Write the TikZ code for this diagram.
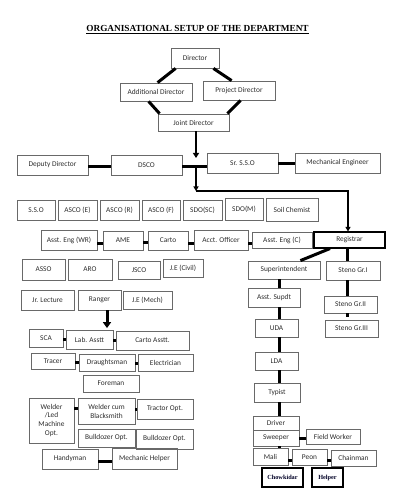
\documentclass[tikz,border=0pt]{standalone}
\usepackage{fontspec}
\setmainfont{Carlito}
\newfontfamily\serifb{Liberation Serif}
\usetikzlibrary{arrows.meta}
\definecolor{boxline}{RGB}{105,105,105}
\definecolor{boxtext}{RGB}{45,45,45}
\tikzset{
  box/.style={draw=boxline, line width=0.8bp, inner sep=0pt, align=center, text=boxtext,
    font=\fontsize{7.4}{9}\selectfont},
  darkbox/.style={draw=black, line width=1.1bp},
  serifbox/.style={draw=black, line width=1.2bp, text=black!85!blue,
    font=\serifb\bfseries\fontsize{6.3}{7}\selectfont},
  conn/.style={line width=3bp, black},
  thinarrow/.style={line width=1.3bp, -{Triangle[width=5bp,length=4.5bp]}},
  midarrow/.style={line width=1.8bp, -{Triangle[width=6bp,length=5bp]}},
  bigarrow/.style={line width=3bp, -{Triangle[width=8bp,length=6bp]}},
}
\newcommand\bx[7][]{\node[box,minimum width={(#5-#3)*1bp},minimum height={(#6-#4)*1bp},#1] (#2) at ({(#3+#5)/2},{(#4+#6)/2}) {#7};}
\begin{document}
\begin{tikzpicture}[x=1bp,y=-1bp]
\useasboundingbox (0,0) rectangle (400,504);
\fill[white] (0,0) rectangle (400,504);
% title
\node[inner sep=0pt, font=\serifb\bfseries\fontsize{9.3}{11}\selectfont, anchor=base] (title) at (197.5,31.5) {ORGANISATIONAL SETUP OF THE DEPARTMENT};
\draw[line width=0.7bp] ([yshift=-1.6bp]title.base west) -- ([yshift=-1.6bp]title.base east);
% top
\bx{director}{171}{48}{219}{68}{Director}
\bx{adddir}{120}{83}{192}{101}{Additional Director}
\bx{projdir}{203}{81}{275}{100}{Project Director}
\bx{jointdir}{158}{114}{229}{131}{Joint Director}
\draw[conn] ([xshift=5bp]director.south west) -- ([xshift=38bp]adddir.north west);
\draw[conn] ([xshift=-6bp]director.south east) -- ([xshift=29bp]projdir.north west);
\draw[conn] ([xshift=29bp]adddir.south west) -- ([xshift=2bp]jointdir.north west);
\draw[conn] ([xshift=38bp]projdir.south west) -- ([xshift=-2bp]jointdir.north east);
% second level
\bx{deputy}{17}{155}{88}{175}{Deputy Director}
\bx{dsco}{111}{155}{182}{175}{DSCO}
\bx{srsso}{207}{153}{278}{173}{Sr. S.S.O}
\bx{mecheng}{295}{153}{380}{173}{Mechanical Engineer}
\coordinate (jtip) at (196,158);
\coordinate (hub) at (196,167);
\coordinate (split) at (196,191);
\coordinate (corner) at (348,191);
\draw[midarrow] (jointdir.south -| 196,0) -- (jtip);
\draw[conn] (deputy.east |- 0,167) -- (dsco.west |- 0,167);
\draw[conn] (dsco.east |- 0,167) -- (srsso.west |- 0,167);
\draw[conn] (srsso.east |- 0,164) -- (mecheng.west |- 0,164);
\draw[thinarrow, line width=1.8bp] (hub) -- (split);
% row 2
\bx{sso}{17}{200}{55}{220}{S.S.O}
\bx{ascoe}{58}{200}{97}{220}{ASCO (E)}
\bx{ascor}{100}{200}{139}{220}{ASCO (R)}
\bx{ascof}{142}{200}{180}{220}{ASCO (F)}
\bx{sdosc}{183}{200}{222}{220}{SDO(SC)}
\bx{sdom}{225}{198}{263}{220}{SDO(M)}
\bx{soil}{266}{198}{318}{221}{Soil Chemist}
% row 3
\bx{aewr}{41}{230}{97}{250}{Asst. Eng (WR)}
\bx{ame}{103}{231}{143}{250}{AME}
\bx{carto}{148}{231}{188}{250}{Carto}
\bx{acct}{194}{230}{248}{250}{Acct. Officer}
\bx{aec}{252}{232}{312}{248}{Asst. Eng (C)}
\bx[darkbox]{registrar}{314}{232}{385}{248}{Registrar}
\draw[conn] (aewr.east |- 0,243) -- (ame.west |- 0,243);
\draw[conn] (ame.east |- 0,242) -- (carto.west |- 0,242);
\draw[conn] (carto.east |- 0,243) -- (acct.west |- 0,243);
\draw[conn] (acct.east |- 0,243) -- (aec.west |- 0,243);
\draw[thinarrow] (split) -- (corner) -- (registrar.north -| corner);
% row 4
\bx{asso}{22}{259}{65}{280}{ASSO}
\bx{aro}{68}{259}{112}{280}{ARO}
\bx{jsco}{118}{261}{160}{279}{JSCO}
\bx{jecivil}{163}{259}{203}{277}{J.E (Civil)}
% row 5
\bx{jrlec}{21}{290}{74}{310}{Jr. Lecture}
\bx{ranger}{78}{290}{121}{310}{Ranger}
\bx{jemech}{123}{291}{172}{309}{J.E (Mech)}
% lower left
\bx{sca}{29}{329}{63}{347}{SCA}
\bx{labasstt}{66}{330}{113}{349}{Lab. Asstt}
\bx{cartoasstt}{116}{331}{189}{350}{Carto Asstt.}
\draw[bigarrow] (ranger.south -| 107,0) -- ([yshift=1.5bp]labasstt.north -| 107,0);
\draw[conn] (sca.east |- 0,339) -- (labasstt.west |- 0,339);
\draw[conn] (labasstt.east |- 0,340) -- (cartoasstt.west |- 0,340);
\bx{tracer}{31}{353}{75}{369}{Tracer}
\bx{draught}{79}{354}{135}{371}{Draughtsman}
\bx{electrician}{138}{354}{193}{371}{Electrician}
\draw[conn] (tracer.east |- 0,362) -- (draught.west |- 0,362);
\draw[conn] (draught.east |- 0,363) -- (electrician.west |- 0,363);
\bx{foreman}{83}{375}{139}{392}{Foreman}
\bx{welder}{29}{398}{74}{443}{Welder\\/Led\\Machine\\Opt.}
\bx{wcb}{78}{398}{135}{424}{Welder cum\\Blacksmith}
\bx{tractor}{137}{399}{193}{419}{Tractor Opt.}
\draw[conn] (welder.east |- 0,408) -- (wcb.west |- 0,408);
\draw[conn] (wcb.east |- 0,409) -- (tractor.west |- 0,409);
\bx{bullone}{78}{429}{135}{447}{Bulldozer Opt.}
\bx{bulltwo}{136}{429}{193}{449}{Bulldozer Opt.}
\bx{handyman}{42}{449}{98}{469}{Handyman}
\bx{mechhelper}{112}{448}{177}{469}{Mechanic Helper}
\draw[conn] (handyman.east |- 0,461) -- (mechhelper.west |- 0,461);
% right column
\bx{supt}{248}{261}{320}{279}{Superintendent}
\bx{stenoone}{326}{261}{380}{280}{Steno Gr.I}
\bx{asupdt}{248}{288}{300}{307}{Asst. Supdt}
\bx{stenotwo}{324}{296}{377}{313}{Steno Gr.II}
\bx{stenothree}{325}{320}{378}{337}{Steno Gr.III}
\bx{uda}{255}{319}{298}{337}{UDA}
\bx{lda}{255}{352}{298}{370}{LDA}
\bx{typist}{254}{383}{300}{402}{Typist}
\bx{driver}{253}{416}{299}{430}{Driver}
\bx{sweeper}{253}{430}{299}{446}{Sweeper}
\bx{fieldw}{306}{429}{360}{444}{Field Worker}
\bx{mali}{253}{448}{288}{465}{Mali}
\bx{peon}{292}{449}{327}{465}{Peon}
\bx{chainman}{331}{450}{376}{466}{Chainman}
\bx[serifbox]{chowkidar}{262}{468}{303}{487}{Chowkidar}
\bx[serifbox]{helper}{312}{468}{343}{487}{Helper}
\draw[conn] ([xshift=-19.5bp]registrar.south) -- ([xshift=-20bp]supt.north east);
\draw[conn] (registrar.south -| 347,0) -- (stenoone.north -| 347,0);
\draw[conn] (stenoone.south -| 347,0) -- (stenotwo.north -| 347,0);
\draw[conn] (stenotwo.south -| 347,0) -- ([yshift=3bp]stenothree.north -| 347,0);
\draw[conn] (supt.south -| 279,0) -- (asupdt.north -| 279,0);
\draw[conn] (asupdt.south -| 279,0) -- (uda.north -| 279,0);
\draw[conn] (uda.south -| 279,0) -- (lda.north -| 279,0);
\draw[conn] (lda.south -| 279,0) -- (typist.north -| 279,0);
\draw[conn] (typist.south -| 279,0) -- (driver.north -| 279,0);
\draw[conn] (sweeper.south -| 279,0) -- (mali.north -| 279,0);
\draw[conn] (sweeper.east |- 0,438) -- (fieldw.west |- 0,438);
\draw[conn] (mali.east |- 0,460) -- (peon.west |- 0,460);
\draw[conn] (peon.east |- 0,460) -- (chainman.west |- 0,460);
\end{tikzpicture}
\end{document}
